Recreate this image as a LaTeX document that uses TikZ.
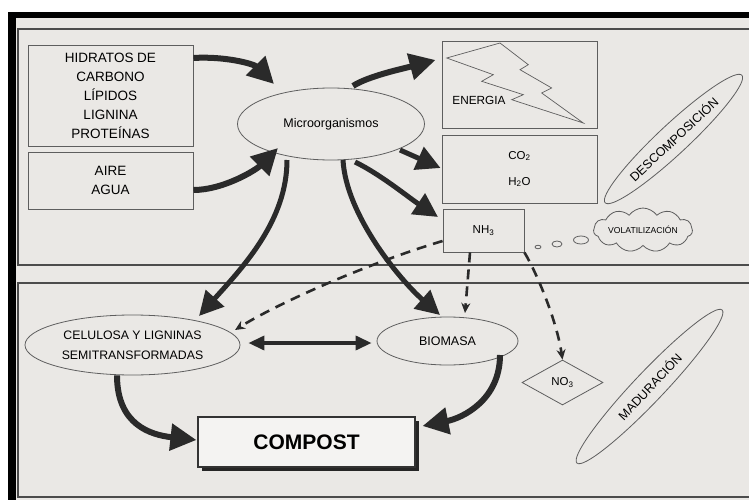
\documentclass[tikz,border=0pt]{standalone}
\usepackage{fontspec}
\setmainfont{Liberation Sans}
\usetikzlibrary{arrows.meta,shapes.geometric,shapes.symbols,shadows}
\definecolor{page}{HTML}{EAE8E5}
\definecolor{ink}{HTML}{2A2A2A}
\definecolor{edge}{HTML}{5E5E5E}
\newcommand{\fsz}[2]{\fontsize{#1}{#2}\selectfont}
\begin{document}
\begin{tikzpicture}[x=1pt,y=-1pt,
  box/.style={draw=edge,line width=0.9pt,fill=page,inner sep=0pt,align=center},
  oval/.style={ellipse,draw=edge,line width=0.8pt,fill=page,inner sep=1pt,align=center},
  big/.style={draw=ink,line width=6pt,-{Triangle[length=26pt,width=26pt]},color=ink},
  mid/.style={draw=ink,line width=5pt,-{Triangle[length=24pt,width=24pt]},color=ink},
  dsh/.style={draw=ink,line width=2.6pt,dash pattern=on 10pt off 7pt,-{Stealth[length=10pt,width=9pt]},color=ink},
  frame/.style={draw=black!70,line width=1.2pt}
]
\useasboundingbox (0,0) rectangle (749,500);
% page
\fill[white] (0,0) rectangle (749,500);
\fill[black] (8,12) rectangle (749,500);
\fill[page] (16,18) rectangle (749,500);
\draw[frame] (18,29) rectangle (755,265);
\draw[frame] (18,283) rectangle (755,497);

% nodes
\node[box,minimum width=165,minimum height=101,font=\fsz{13.5}{19}] (hid) at (110.5,95.5)
  {HIDRATOS DE\\CARBONO\\LÍPIDOS\\LIGNINA\\PROTEÍNAS};
\node[box,minimum width=165,minimum height=57,font=\fsz{13.5}{19}] (aire) at (110.5,180.5)
  {AIRE\\AGUA};
\node[oval,minimum width=187,minimum height=72,font=\fsz{12.5}{15}] (micro) at (331,124) {Microorganismos};
\node[box,minimum width=155,minimum height=87] (ener) at (519.5,84.5) {};
\begin{scope}[shift={(ener.center)}]
\draw[edge,line width=0.7pt] (-72.8,-26.5) -- (-19.5,-41.5) -- (8.8,-19.8) -- (0.5,-14.8)
  -- (32.2,3.5) -- (22.2,8.5) -- (63.8,38.5) -- (-7.8,15.2) -- (3.8,10.2)
  -- (-37.8,-3.2) -- (-26.2,-9.8) -- cycle;
\end{scope}
\node[font=\fsz{11.8}{14}] (energia) at (479,100) {ENERGIA};
\node[box,minimum width=155,minimum height=68,font=\fsz{11.5}{14}] (co2) at (519.5,169)
  {CO\textsubscript{2}\\[12pt]H\textsubscript{2}O};
\node[box,minimum width=81,minimum height=43,font=\fsz{11.5}{14}] (nh3) at (483.5,230.5) {NH\textsubscript{3}};
\node[oval,minimum width=187,minimum height=30,rotate=43,font=\fsz{12.5}{15}] (desc) at (673.5,139) {DESCOMPOSICIÓN};
\node[cloud,draw=edge,line width=0.8pt,fill=page,cloud puffs=11,cloud puff arc=110,aspect=3.2,
  minimum width=95,minimum height=32,inner sep=0pt,font=\fsz{8.6}{10}] (vol) at (643,230) {VOLATILIZACIÓN};
\node[ellipse,draw=edge,line width=0.8pt,minimum width=6,minimum height=3.5,inner sep=0pt] (d1) at (538,247) {};
\node[ellipse,draw=edge,line width=0.8pt,minimum width=10,minimum height=6,inner sep=0pt] (d2) at (557,244) {};
\node[ellipse,draw=edge,line width=0.8pt,minimum width=15,minimum height=8,inner sep=0pt] (d3) at (581,240) {};
\node[oval,minimum width=215,minimum height=60,font=\fsz{12.3}{20}] (celu) at (132.5,345)
  {CELULOSA Y LIGNINAS\\SEMITRANSFORMADAS};
\node[oval,minimum width=141,minimum height=48,font=\fsz{12.5}{15}] (bio) at (447.5,341) {BIOMASA};
\node[diamond,draw=edge,line width=0.8pt,fill=page,minimum width=81,minimum height=45,inner sep=0pt,
  font=\fsz{11.5}{14}] (no3) at (562.5,382.5) {NO\textsubscript{3}};
\node[oval,minimum width=211,minimum height=30,rotate=46.5,font=\fsz{12.5}{15}] (madu) at (649.5,386.5) {MADURACIÓN};
\node[box,draw=black!80,line width=1.1pt,fill=page!50!white,minimum width=217,minimum height=50,
  font=\fsz{21}{24}\bfseries,
  drop shadow={shadow xshift=4pt,shadow yshift=-4pt,fill=black!85,opacity=1}] (comp) at (306.5,442) {COMPOST};

% arrows
\draw[big] ([shift={(0,-37.5)}]hid.east) .. controls +(32,-2) and +(-20,-20) .. ([shift={(-57,-40)}]micro.center);
\draw[big] ([shift={(0,9.5)}]aire.east) .. controls +(30,0) and +(-22,22) .. ([shift={(-53,24)}]micro.center);
\draw[big] ([shift={(22,-38)}]micro.center) .. controls +(15,-10) and +(-30,8) .. ([shift={(-6,-24.5)}]ener.west);
\draw[mid] ([shift={(69,26)}]micro.center) -- ([shift={(-1,-1)}]co2.west);
\draw[mid] ([shift={(24,38)}]micro.center) .. controls +(25,12) and +(-30,-20) .. ([shift={(-45.5,-13.5)}]nh3.center);
\draw[mid] ([shift={(-44,36)}]micro.center) .. controls +(0,60) and +(45,-50) .. ([shift={(66.5,-29)}]celu.center);
\draw[mid] ([shift={(12,36)}]micro.center) .. controls +(3,55) and +(-40,-35) .. ([shift={(-7.5,-26)}]bio.center);

\draw[dsh] ([shift={(0,10.5)}]nh3.west) .. controls +(-80,24) and +(40,-25) .. ([shift={(102.5,-15)}]celu.center);
\draw[dsh] ([shift={(-13.5,0)}]nh3.south) -- ([shift={(17.5,-28)}]bio.center);
\draw[dsh] (nh3.south east) .. controls +(12,20) and +(-6,-40) .. (no3.north);

\draw[draw=ink,color=ink,line width=3.5pt,{Triangle[length=16pt,width=14pt]}-{Triangle[length=16pt,width=14pt]}]
  ([shift={(8,-2)}]celu.east) -- ([shift={(-5,2)}]bio.west);

\draw[big] ([shift={(-15.5,0)}]celu.south) .. controls +(0,50) and +(-45,-5) .. ([shift={(-1,-2)}]comp.west);
\draw[big] ([shift={(52.5,14)}]bio.center) .. controls +(0,45) and +(40,-8) .. ([shift={(7,-16)}]comp.east);
\end{tikzpicture}
\end{document}
